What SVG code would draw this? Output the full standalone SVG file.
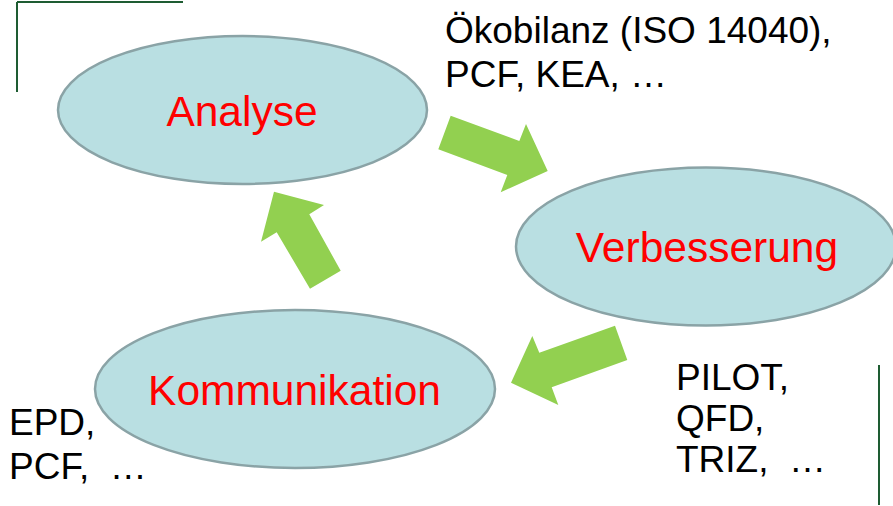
<svg xmlns="http://www.w3.org/2000/svg" width="893" height="506" viewBox="0 0 893 506">
  <style>
    .node ellipse { fill: #b9dfe2; stroke: #8aa3a6; stroke-width: 2.5; }
    .node text { font-family: "Liberation Sans", Arial, sans-serif; font-size: 42.5px; fill: #ff0000; text-anchor: middle; }
    .arrow { fill: #92d050; }
    .label { font-family: "Liberation Sans", Arial, sans-serif; font-size: 37px; fill: #000000; }
    .frame { stroke: #1e5c32; stroke-width: 2; fill: none; }
  </style>
  <rect width="893" height="506" fill="#ffffff"/>

  <!-- frame corner lines -->
  <path class="frame" d="M17 2 H183 M17 2 V92"/>
  <path class="frame" d="M879 365 V505"/>

  <g id="analyse" class="node">
    <ellipse cx="242.5" cy="110" rx="184.5" ry="74"/>
    <text x="242" y="126">Analyse</text>
  </g>

  <g id="verbesserung" class="node">
    <ellipse cx="706" cy="246.5" rx="190" ry="79"/>
    <text x="707" y="262">Verbesserung</text>
  </g>

  <g id="kommunikation" class="node">
    <ellipse cx="295" cy="389" rx="200" ry="79"/>
    <text x="294.5" y="405">Kommunikation</text>
  </g>

  <g id="connectors">
    <polygon class="arrow" points="450.7,115.7 519.3,141 526,124 547.7,171 500.7,192.3 507.3,175 438.3,149.3"/>
    <polygon class="arrow" points="615,325.7 627.3,360 551.7,387.3 558.3,405 511,382.7 532.3,336 539.3,352.7"/>
    <polygon class="arrow" points="340.7,270.7 310,288.7 276.7,232.3 261,241.7 274,191.7 324,205 309.3,214.3"/>
  </g>

  <g id="labels">
    <text class="label" x="445" y="43">Ökobilanz (ISO 14040),</text>
    <text class="label" x="445" y="87">PCF, KEA, …</text>
    <text class="label" x="676" y="390">PILOT,</text>
    <text class="label" x="676" y="431">QFD,</text>
    <text class="label" x="676" y="472" xml:space="preserve">TRIZ,  …</text>
    <text class="label" x="9" y="435">EPD,</text>
    <text class="label" x="9" y="479" xml:space="preserve">PCF,  …</text>
  </g>
</svg>
